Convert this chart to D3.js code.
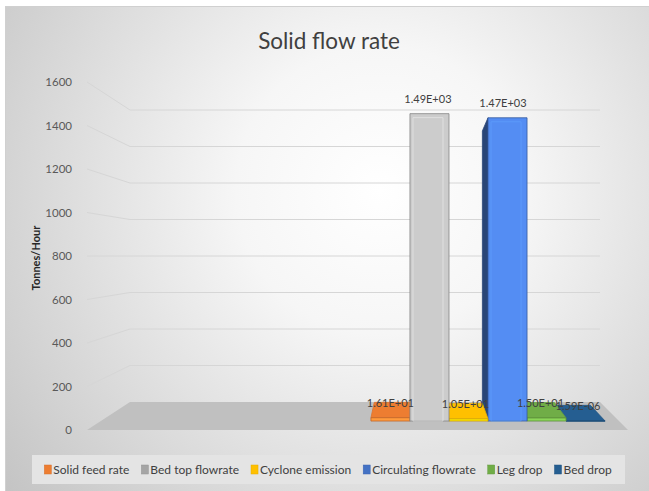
<!DOCTYPE html>
<html>
<head>
<meta charset="utf-8">
<script src="https://cdn.jsdelivr.net/npm/d3@7/dist/d3.min.js"></script>
<style>
  html, body { margin: 0; padding: 0; background: #ffffff; }
  svg { display: block; }
  text { font-family: Lato, "Open Sans", sans-serif; }
</style>
</head>
<body>
<svg id="chart" width="649" height="491"></svg>
<script>
// Series shown as 3-D columns
const seriesNames = ["Solid feed rate", "Bed top flowrate", "Cyclone emission",
                     "Circulating flowrate", "Leg drop", "Bed drop"];
const seriesValues = [16.1, 1490, 10.5, 1470, 15.0, 1.59e-6];
const seriesColors = ["#ED7D31", "#A5A5A5", "#FFC000", "#4472C4", "#70AD47", "#255E91"];
const yTicks = [0, 200, 400, 600, 800, 1000, 1200, 1400, 1600];
const chartTitle = "Solid flow rate";
const yAxisTitle = "Tonnes/Hour";

const W = 649, H = 491;
const svg = d3.select("#chart");

// ---- background ----
const defs = svg.append("defs");
const bg = defs.append("radialGradient").attr("id", "bg")
  .attr("gradientUnits", "userSpaceOnUse")
  .attr("cx", 380).attr("cy", 190).attr("r", 480);
bg.append("stop").attr("offset", 0).attr("stop-color", "#ffffff");
bg.append("stop").attr("offset", 0.3).attr("stop-color", "#f6f6f6");
bg.append("stop").attr("offset", 1).attr("stop-color", "#c4c4c4");
svg.append("rect").attr("x", 5.5).attr("y", 6.5).attr("width", W).attr("height", H)
  .attr("fill", "url(#bg)").attr("stroke", "#d0d0d0");

// ---- 3-D frame: front plane and back plane scales, blended by depth ----
const frontX = d3.scaleLinear().domain([0, 1]).range([87, 628]);
const backX  = d3.scaleLinear().domain([0, 1]).range([130, 600]);
const frontY = d3.scaleLinear().domain([0, 1600]).range([430, 82]);
const backY  = d3.scaleLinear().domain([0, 1600]).range([402, 110]);
const lerp = (a, b, t) => a + (b - a) * t;
function proj(u, v, z) {
  return [lerp(frontX(u), backX(u), z), lerp(frontY(v), backY(v), z)];
}
const poly = pts => pts.map(p => p.join(",")).join(" ");

// series positions across the floor width
const xBand = d3.scaleBand().domain(seriesNames).range([0.5213, 0.9731]).padding(0);
const z0 = 0.32, z1 = 0.88;   // column depth span

// ---- floor ----
svg.append("polygon")
  .attr("points", poly([proj(0, 0, 0), proj(1, 0, 0), proj(1, 0, 1), proj(0, 0, 1)]))
  .attr("fill", "#c0c0c0");

// ---- gridlines: side wall + back wall ----
const grid = svg.append("g").attr("fill", "none").attr("stroke", "#d6d6d6").attr("stroke-width", 1);
yTicks.filter(t => t > 0).forEach(t => {
  grid.append("polyline")
    .attr("points", poly([proj(0, t, 0), proj(0, t, 1), proj(1, t, 1)]));
});

// ---- value axis labels ----
svg.append("g").selectAll("text").data(yTicks).join("text")
  .attr("x", 72).attr("y", d => frontY(d))
  .attr("dy", "0.35em").attr("text-anchor", "end")
  .attr("font-size", 11.5).attr("fill", "#595959")
  .text(d => d);

svg.append("text")
  .attr("transform", "translate(40,258) rotate(-90)")
  .attr("text-anchor", "middle").attr("font-size", 11).attr("font-weight", "bold")
  .attr("fill", "#262626").text(yAxisTitle);

// ---- title ----
svg.append("text").attr("x", 329).attr("y", 49).attr("text-anchor", "middle")
  .attr("font-size", 22.5).attr("fill", "#404040").text(chartTitle);

// ---- columns ----
const bars = seriesNames.map((name, i) => {
  const u0 = xBand(name), u1 = u0 + xBand.bandwidth();
  return { name, v: seriesValues[i], color: seriesColors[i], u0, u1, uc: (u0 + u1) / 2 };
});
// depth vanishes horizontally where front and back x coincide
const uVanish = (frontX(0) - backX(0)) / ((frontX(0) - backX(0)) - (frontX(1) - backX(1)));
const drawOrder = bars.slice().sort((a, b) => Math.abs(b.uc - uVanish) - Math.abs(a.uc - uVanish));

const barG = svg.append("g");
drawOrder.forEach(b => {
  const c = d3.color(b.color);
  const g = barG.append("g").attr("stroke-width", 0.8).attr("stroke-linejoin", "round");
  const fFront = c.brighter(0.6), fSide = c.darker(1.4), fTop = c.brighter(1.0);
  const edge = c.darker(0.6);
  // side face (the one facing the vanishing direction)
  const dxL = proj(b.u0, 0, z1)[0] - proj(b.u0, 0, z0)[0];
  if (dxL < 0) {
    g.append("polygon")
      .attr("points", poly([proj(b.u0, 0, z0), proj(b.u0, b.v, z0), proj(b.u0, b.v, z1), proj(b.u0, 0, z1)]))
      .attr("fill", fSide).attr("stroke", fSide);
  }
  const dxR = proj(b.u1, 0, z1)[0] - proj(b.u1, 0, z0)[0];
  if (dxR > 0) {
    g.append("polygon")
      .attr("points", poly([proj(b.u1, 0, z0), proj(b.u1, b.v, z0), proj(b.u1, b.v, z1), proj(b.u1, 0, z1)]))
      .attr("fill", fSide).attr("stroke", fSide);
  }
  // top face when seen from above
  if (proj(b.u0, b.v, z1)[1] < proj(b.u0, b.v, z0)[1]) {
    g.append("polygon")
      .attr("points", poly([proj(b.u0, b.v, z0), proj(b.u1, b.v, z0), proj(b.u1, b.v, z1), proj(b.u0, b.v, z1)]))
      .attr("fill", c).attr("stroke", c.darker(0.2));
  }
  // front face
  g.append("polygon")
    .attr("points", poly([proj(b.u0, 0, z0), proj(b.u1, 0, z0), proj(b.u1, b.v, z0), proj(b.u0, b.v, z0)]))
    .attr("fill", fFront).attr("stroke", edge);
  // inner highlight on tall faces
  const hFace = proj(b.u0, 0, z0)[1] - proj(b.u0, b.v, z0)[1];
  if (hFace > 20) {
    const p0 = proj(b.u0, 0, z0), p1 = proj(b.u1, b.v, z0);
    g.append("rect")
      .attr("x", p0[0] + 3).attr("y", p1[1] + 4)
      .attr("width", p1[0] - p0[0] - 9).attr("height", p0[1] - p1[1] - 4)
      .attr("fill", "none").attr("stroke", fTop).attr("stroke-width", 1).attr("opacity", 0.6);
  }
});

// ---- data labels ----
function excelSci(v) {
  const [m, e] = v.toExponential(2).split("e");
  const n = parseInt(e, 10);
  return m + "E" + (n < 0 ? "-" : "+") + String(Math.abs(n)).padStart(2, "0");
}
svg.append("g").selectAll("text").data(bars).join("text")
  .attr("x", d => proj(d.uc, d.v, (z0 + z1) / 2)[0] - 1)
  .attr("y", d => proj(d.uc, d.v, z0)[1] - 11)
  .attr("text-anchor", "middle").attr("font-size", 11).attr("fill", "#404040")
  .text(d => excelSci(d.v));

// ---- legend ----
const legend = svg.append("g");
legend.append("rect").attr("x", 32).attr("y", 455).attr("width", 593).attr("height", 29)
  .attr("fill", "#e4e4e4");
const items = legend.selectAll("g.item").data(bars).join("g").attr("class", "item");
items.append("rect").attr("width", 7).attr("height", 9).attr("y", 465)
  .attr("fill", d => d.color).attr("stroke", d => d3.color(d.color).darker(0.3)).attr("stroke-width", 0.5);
items.append("text").attr("x", 9).attr("y", 474).attr("font-size", 12).attr("fill", "#404040")
  .text(d => d.name);
const gap = 12;
const widths = [];
items.each(function () { widths.push(9 + d3.select(this).select("text").node().getComputedTextLength()); });
const total = d3.sum(widths) + gap * (widths.length - 1);
let cx = 328 - total / 2;
items.each(function (d, i) {
  d3.select(this).attr("transform", `translate(${cx},0)`);
  cx += widths[i] + gap;
});
</script>
</body>
</html>
